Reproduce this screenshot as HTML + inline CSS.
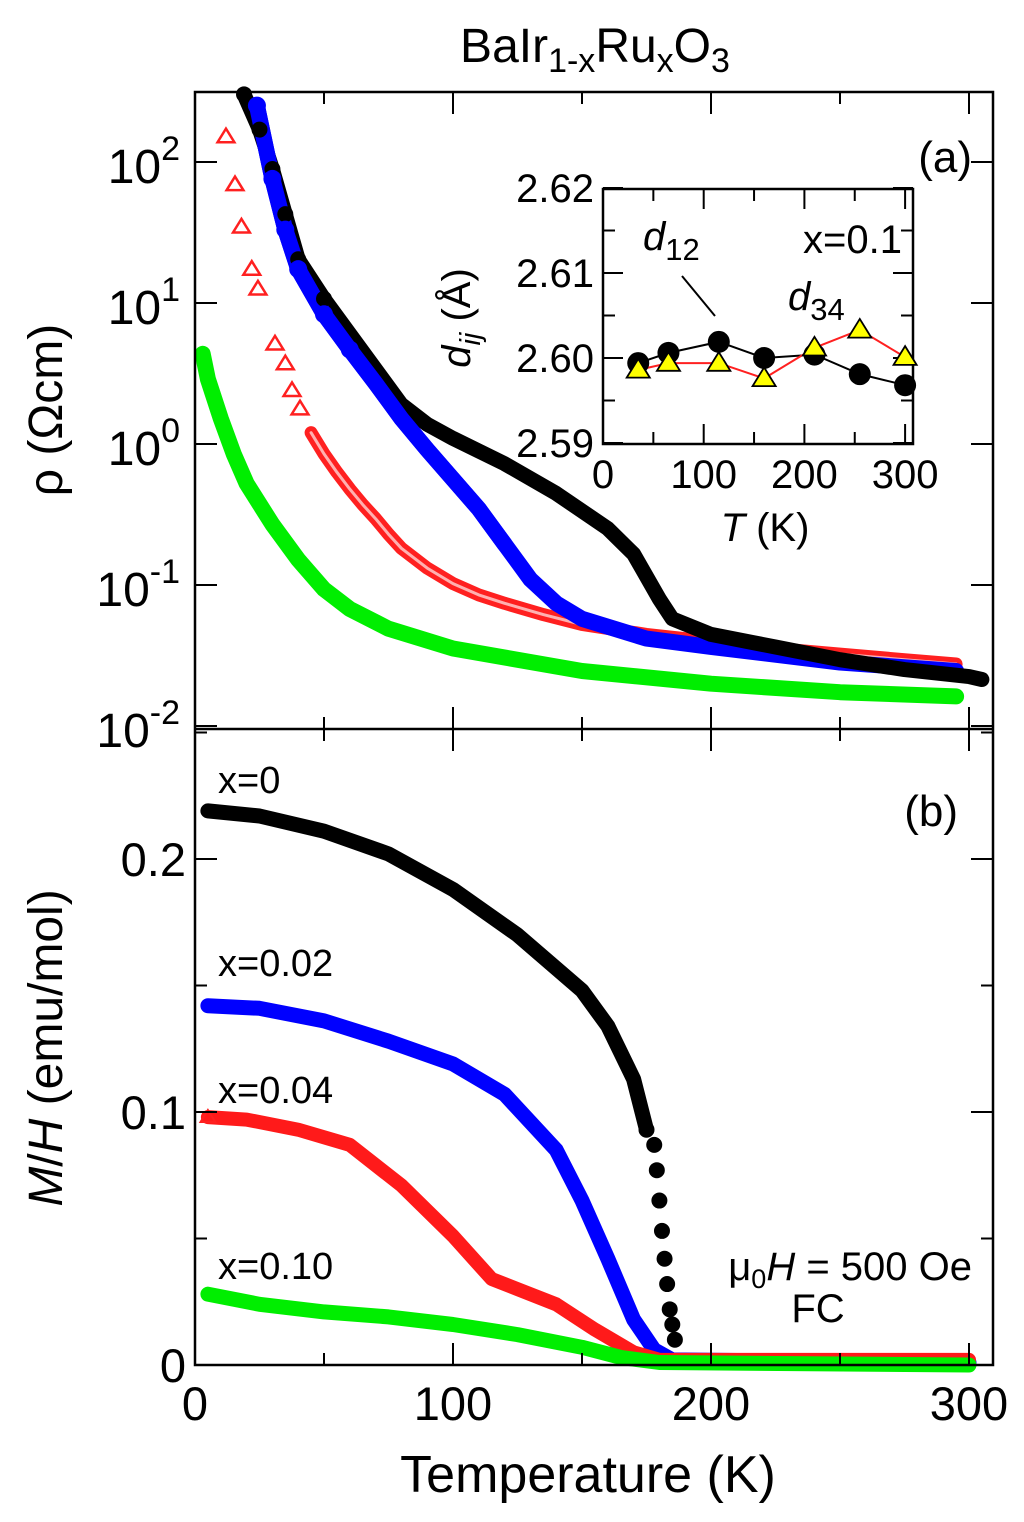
<!DOCTYPE html>
<html><head><meta charset="utf-8">
<style>
html,body{margin:0;padding:0;background:#fff;}
svg{display:block;font-family:"Liberation Sans",Arial,sans-serif;}
</style></head>
<body>
<svg id="chart" width="1024" height="1522" viewBox="0 0 1024 1522" xmlns="http://www.w3.org/2000/svg">
  <text x="595" y="62" font-size="48" text-anchor="middle">BaIr<tspan font-size="34" dy="10">1-x</tspan><tspan dy="-10">Ru</tspan><tspan font-size="34" dy="10">x</tspan><tspan dy="-10">O</tspan><tspan font-size="34" dy="10">3</tspan></text>
  <g id="topPanel"></g>
  <g id="botPanel"></g>
  <g id="axesGroup"></g>
  <g id="insetGroup"></g>
  <text x="972" y="172" font-size="44" text-anchor="end">(a)</text>
  <text x="958" y="826" font-size="44" text-anchor="end">(b)</text>
  <text transform="translate(62,410) rotate(-90)" font-size="48" text-anchor="middle">ρ (Ωcm)</text>
  <text transform="translate(62,1048) rotate(-90)" font-size="48" text-anchor="middle"><tspan font-style="italic">M</tspan>/<tspan font-style="italic">H</tspan> (emu/mol)</text>
  <text x="588" y="1492" font-size="52" text-anchor="middle">Temperature (K)</text>
  <text x="218" y="793" font-size="38">x=0</text>
  <text x="218" y="976" font-size="38">x=0.02</text>
  <text x="218" y="1103" font-size="38">x=0.04</text>
  <text x="218" y="1279" font-size="38">x=0.10</text>
  <text x="972" y="1280" font-size="40" text-anchor="end">μ<tspan font-size="27" dy="8">0</tspan><tspan dy="-8" font-style="italic">H</tspan> = 500 Oe</text>
  <text x="818" y="1322" font-size="40" text-anchor="middle">FC</text>
</svg>
<script>
// ---- resistivity data (log10 rho) ----
const tBlackR = [19,25,30,35,40,50,60,70,80,90,100,120,140,160,170,180,185,200,225,250,275,300,305];
const logRhoBlack = [2.48,2.23,1.95,1.63,1.31,1.03,0.78,0.53,0.28,0.14,0.04,-0.14,-0.35,-0.60,-0.78,-1.10,-1.24,-1.35,-1.44,-1.53,-1.60,-1.65,-1.67];
const tBlueR = [24,30,35,40,50,60,70,80,90,100,110,120,130,140,150,175,200,250,295];
const logRhoBlue = [2.40,1.88,1.52,1.24,0.92,0.67,0.43,0.18,-0.04,-0.25,-0.46,-0.71,-0.96,-1.13,-1.24,-1.38,-1.44,-1.55,-1.61];
const tRedR = [12,15.5,18,22,24.4,31,35,37.6,40.7,45,50,55,60,65,70,75,80,90,100,110,120,135,150,175,200,225,250,275,295];
const logRhoRed = [2.18,1.84,1.54,1.24,1.10,0.71,0.57,0.38,0.25,0.08,-0.07,-0.20,-0.32,-0.43,-0.53,-0.64,-0.74,-0.88,-0.99,-1.07,-1.13,-1.21,-1.28,-1.35,-1.40,-1.45,-1.49,-1.53,-1.56];
const tGreenR = [3,5,10,15,20,30,40,50,60,75,100,150,200,250,295];
const logRhoGreen = [0.64,0.46,0.18,-0.07,-0.28,-0.57,-0.82,-1.03,-1.17,-1.31,-1.45,-1.61,-1.70,-1.76,-1.79];
// ---- magnetization data ----
const tBlackM = [5,25,50,75,100,125,150,160,170,175,178,179,180,181,182,183,184,185,186,190,220,260,300];
const mhBlack = [0.219,0.217,0.211,0.202,0.188,0.170,0.148,0.134,0.113,0.093,0.087,0.077,0.065,0.053,0.042,0.032,0.022,0.016,0.010,0.002,0.001,0.001,0.001];
const tBlueM = [5,25,50,75,100,120,140,150,160,170,178,185,300];
const mhBlue = [0.142,0.141,0.136,0.128,0.119,0.107,0.085,0.065,0.042,0.018,0.006,0.002,0.001];
const tRedM = [5,20,40,60,80,100,115,125,140,155,170,180,300];
const mhRed = [0.098,0.097,0.093,0.087,0.071,0.051,0.034,0.030,0.024,0.014,0.005,0.002,0.002];
const tGreenM = [5,25,50,75,100,125,150,165,180,300];
const mhGreen = [0.028,0.024,0.021,0.019,0.016,0.012,0.007,0.003,0.001,0.0];
// ---- inset data ----
const tInset = [35,65,115,160,210,255,300];
const d12 = [2.5994,2.6006,2.6019,2.6000,2.6004,2.5981,2.5968];
const d34 = [2.5986,2.5994,2.5994,2.5976,2.6012,2.6033,2.6001];
// ---- tick labels ----
const xTicks = [0,100,200,300];
const rhoDecades = [2,1,0,-1,-2];
const rhoLabels = ["10","10","10","10","10"];
const mhTicks = [0,0.1,0.2];
const mhTickLabels = ["0","0.1","0.2"];
const insetXTicks = [0,100,200,300];
const insetYTicks = [2.59,2.60,2.61,2.62];
const insetYLabels = ["2.59","2.60","2.61","2.62"];

const NS = "http://www.w3.org/2000/svg";
const L=195,R=993,T0=92,MID=729,B=1365;
const sx = t => L + t*2.58;
const sy = lg => 162 - (lg-2)*141;
const my = v => 1365 - v*2530;
const IL=603,IR=913,IT=189,IB=444;
const ix = t => IL + t*1.007;
const iy = d => 358 - (d-2.60)*8500;

function mk(tag, attrs, parent){
  const e=document.createElementNS(NS,tag);
  for(const k in attrs) e.setAttribute(k,attrs[k]);
  parent.appendChild(e); return e;
}
const gTop=document.getElementById('topPanel');
const gBot=document.getElementById('botPanel');
const gIns=document.getElementById('insetGroup');
const gAx=document.getElementById('axesGroup');

function band(ts, vs, fy, color, w, parent, name){
  const pts = ts.map((t,i)=>sx(t).toFixed(1)+','+fy(vs[i]).toFixed(1)).join(' ');
  const p = mk('polyline',{points:pts,fill:'none',stroke:color,'stroke-width':w,'stroke-linejoin':'round','stroke-linecap':'round'},parent);
  
  
  return p;
}
function dots(ts, vs, fy, color, r, parent, name){
  ts.forEach((t,i)=>{
    const c = mk('circle',{cx:sx(t),cy:fy(vs[i]),r:r,fill:color},parent);
    
    
  });
}
function tri(x,y,s,fill,stroke,sw,parent,name){
  const p = mk('polygon',{points:`${x},${y-s} ${x-s*1.05},${y+s*0.7} ${x+s*1.05},${y+s*0.7}`,fill:fill,stroke:stroke,'stroke-width':sw},parent);
  
  
}

// top panel series
band(tGreenR, logRhoGreen, sy, '#00ee00', 16, gTop, 'rho-x010-line');
band(tRedR.slice(9), logRhoRed.slice(9), sy, '#ff2020', 13, gTop, 'rho-x004-line');
band(tRedR.slice(9), logRhoRed.slice(9), sy, '#ffb0b0', 3, gTop, 'rho-x004-inner');
band(tBlueR, logRhoBlue, sy, '#0000ff', 16, gTop, 'rho-x002-line');
band(tBlackR, logRhoBlack, sy, '#000', 15, gTop, 'rho-x0-line');
band(tBlueR.slice(0,12), logRhoBlue.slice(0,12), sy, '#0000ff', 16, gTop, 'rho-x002-line-front');
dots(tBlackR.slice(0,6), logRhoBlack.slice(0,6), sy, '#000', 8, gTop, 'rho-x0-point');
dots(tBlueR.slice(0,6), logRhoBlue.slice(0,6), sy, '#0000ff', 9, gTop, 'rho-x002-point');
tRedR.forEach((t,i)=>{ if(i<9) tri(sx(t),sy(logRhoRed[i]),8,'none','#ff2020',2.5,gTop,'rho-x004-point'); });

// bottom panel series
band(tBlackM.slice(0,10), mhBlack.slice(0,10), my, '#000', 15, gBot, 'mh-x0-line');
dots(tBlackM.slice(9,19), mhBlack.slice(9,19), my, '#000', 8, gBot, 'mh-x0-point');
band(tBlueM, mhBlue, my, '#0000ff', 15, gBot, 'mh-x002-line');
band(tRedM, mhRed, my, '#ff1a1a', 14, gBot, 'mh-x004-line');
band(tGreenM, mhGreen, my, '#00ee00', 15, gBot, 'mh-x010-line');
tri(sx(tRedM[0]), my(mhRed[0]), 7, 'none', '#ff2020', 2, gBot, 'mh-x004-point');

// axes frame
mk('rect',{x:L,y:T0,width:R-L,height:B-T0,fill:'none',stroke:'#000','stroke-width':2.5},gAx);
mk('line',{x1:L,y1:MID,x2:R,y2:MID,stroke:'#000','stroke-width':2.5},gAx);
for(let t=0;t<=300;t+=50){
  const major = t%100===0, len = major?22:12, x=sx(t);
  mk('line',{x1:x,y1:MID-len,x2:x,y2:MID+len,stroke:'#000','stroke-width':2},gAx);
  mk('line',{x1:x,y1:B,x2:x,y2:B-len,stroke:'#000','stroke-width':2},gAx);
  mk('line',{x1:x,y1:T0,x2:x,y2:T0+len,stroke:'#000','stroke-width':2},gAx);
}
xTicks.forEach(t=>{
  const tx = mk('text',{x:sx(t),y:1420,'font-size':47,'text-anchor':'middle'},gAx);
  tx.textContent = t;
  
  
});
rhoDecades.forEach((d,i)=>{
  const y=sy(d);
  mk('line',{x1:L,y1:y,x2:L+22,y2:y,stroke:'#000','stroke-width':2},gAx);
  mk('line',{x1:R,y1:y,x2:R-22,y2:y,stroke:'#000','stroke-width':2},gAx);
  const tx = mk('text',{x:180,y:y+21,'font-size':48,'text-anchor':'end'},gAx);
  
  
  tx.textContent = rhoLabels[i];
  const s = mk('tspan',{'font-size':34,dy:-23},tx);
  s.textContent = d;
});
for(let v=0.05; v<0.26; v+=0.05){
  const y=my(v), major=Math.abs(v*10-Math.round(v*10))<1e-6, len=major?22:12;
  mk('line',{x1:L,y1:y,x2:L+len,y2:y,stroke:'#000','stroke-width':2},gAx);
  mk('line',{x1:R,y1:y,x2:R-len,y2:y,stroke:'#000','stroke-width':2},gAx);
}
mhTicks.forEach((v,i)=>{
  const tx = mk('text',{x:186,y:my(v)+17,'font-size':47,'text-anchor':'end'},gAx);
  tx.textContent = mhTickLabels[i];
  
  
});

// inset
mk('rect',{x:IL,y:IT,width:IR-IL,height:IB-IT,fill:'#fff',stroke:'#000','stroke-width':2.5},gIns);
for(let t=0;t<=300;t+=50){
  const x=ix(t), len=t%100===0?20:12;
  mk('line',{x1:x,y1:IB,x2:x,y2:IB-len,stroke:'#000','stroke-width':2},gIns);
  mk('line',{x1:x,y1:IT,x2:x,y2:IT+len,stroke:'#000','stroke-width':2},gIns);
}
for(let k=0; k<=6; k++){
  const d=2.59+k*0.005, y=iy(d), len=(k%2===0)?20:12;
  mk('line',{x1:IL,y1:y,x2:IL+len,y2:y,stroke:'#000','stroke-width':2},gIns);
  mk('line',{x1:IR,y1:y,x2:IR-len,y2:y,stroke:'#000','stroke-width':2},gIns);
}
insetXTicks.forEach(t=>{
  const tx = mk('text',{x:ix(t),y:488,'font-size':40,'text-anchor':'middle'},gIns);
  tx.textContent=t;
  
  
});
insetYTicks.forEach((d,i)=>{
  const tx = mk('text',{x:594,y:iy(d)+14,'font-size':40,'text-anchor':'end'},gIns);
  tx.textContent=insetYLabels[i];
  
  
});
const pl = (ts,vs)=>ts.map((t,i)=>ix(t)+','+iy(vs[i])).join(' ');
const l1 = mk('polyline',{points:pl(tInset,d12),fill:'none',stroke:'#000','stroke-width':2},gIns);


const l2 = mk('polyline',{points:pl(tInset,d34),fill:'none',stroke:'#ff2020','stroke-width':2},gIns);


tInset.forEach((t,i)=>{
  const c = mk('circle',{cx:ix(t),cy:iy(d12[i]),r:11,fill:'#000'},gIns);
  
  
});
tInset.forEach((t,i)=>{ tri(ix(t),iy(d34[i]),11,'#ffff00','#000',1.8,gIns,'d34-point'); });
mk('line',{x1:682,y1:276,x2:715,y2:316,stroke:'#000','stroke-width':2},gIns);
const t1 = mk('text',{x:643,y:250,'font-size':40},gIns);


t1.innerHTML='<tspan font-style="italic">d</tspan><tspan font-size="31" dy="10">12</tspan>';
const t2 = mk('text',{x:788,y:310,'font-size':40},gIns);


t2.innerHTML='<tspan font-style="italic">d</tspan><tspan font-size="31" dy="10">34</tspan>';
const t3 = mk('text',{x:902,y:253,'font-size':40,'text-anchor':'end'},gIns);


t3.textContent='x=0.1';
const t4 = mk('text',{x:765,y:541,'font-size':40,'text-anchor':'middle'},gIns);


t4.innerHTML='<tspan font-style="italic">T</tspan> (K)';
const t5 = mk('text',{transform:'translate(470,318) rotate(-90)','font-size':40,'text-anchor':'middle'},gIns);


t5.innerHTML='<tspan font-style="italic">d</tspan><tspan font-style="italic" font-size="29" dy="10">ij</tspan><tspan dy="-10"> (Å)</tspan>';
</script>
</body></html>
